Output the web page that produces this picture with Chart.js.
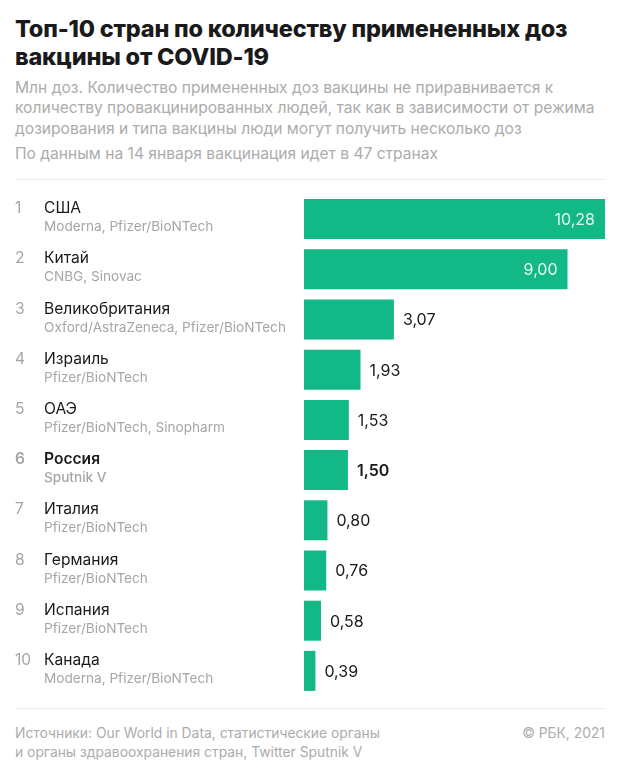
<!DOCTYPE html>
<html lang="ru">
<head>
<meta charset="utf-8">
<title>Топ-10 стран по количеству примененных доз вакцины от COVID-19</title>
<script src="https://cdn.jsdelivr.net/npm/chart.js@4"></script>
<style>
  html, body { margin: 0; background: #fff; }
  body { position: relative; width: 620px; height: 775px; overflow: hidden; font-family: Inter, sans-serif; }
  .box { position: absolute; left: 15px; white-space: nowrap; }
  h1 { margin: 0; top: 15px; font-size: 23.5px; line-height: 28px; font-weight: 800; color: #1a1a1a; letter-spacing: -0.2px; }
  .sub { color: #acacac; font-size: 15.6px; line-height: 20.4px; }
  .rule { position: absolute; left: 15px; width: 590px; height: 1px; background: #ececec; }
  .foot { color: #acacac; font-size: 13.85px; line-height: 18.5px; }
  canvas { position: absolute; left: 0; top: 0; }
</style>
</head>
<body>
<h1 class="box">Топ-10 стран по количеству примененных доз<br>вакцины от COVID-19</h1>
<div class="box sub" style="top:78px">Млн доз. Количество примененных доз вакцины не приравнивается к<br>количеству провакцинированных людей, так как в зависимости от режима<br>дозирования и типа вакцины люди могут получить несколько доз</div>
<div class="box sub" style="top:144px">По данным на 14 января вакцинация идет в 47 странах</div>
<div class="rule" style="top:179px"></div>
<div class="rule" style="top:708px"></div>
<div class="box foot" style="top:724px">Источники: Our World in Data, статистические органы<br>и органы здравоохранения стран, Twitter Sputnik V</div>
<div class="box foot" style="top:724px;left:auto;right:15px">© РБК, 2021</div>
<canvas id="chart" width="620" height="775"></canvas>
<script>
const ranks = ["1", "2", "3", "4", "5", "6", "7", "8", "9", "10"];
const countries = ["США", "Китай", "Великобритания", "Израиль", "ОАЭ", "Россия", "Италия", "Германия", "Испания", "Канада"];
const vaccines = [
  "Moderna, Pfizer/BioNTech",
  "CNBG, Sinovac",
  "Oxford/AstraZeneca, Pfizer/BioNTech",
  "Pfizer/BioNTech",
  "Pfizer/BioNTech, Sinopharm",
  "Sputnik V",
  "Pfizer/BioNTech",
  "Pfizer/BioNTech",
  "Pfizer/BioNTech",
  "Moderna, Pfizer/BioNTech"
];
const doses = [10.28, 9.0, 3.07, 1.93, 1.53, 1.5, 0.8, 0.76, 0.58, 0.39];
const highlighted = "Россия";

const rowLabels = {
  id: "rowLabels",
  afterDatasetsDraw(chart) {
    const ctx = chart.ctx;
    const bars = chart.getDatasetMeta(0).data;
    ctx.save();
    ctx.textBaseline = "middle";
    bars.forEach((bar, i) => {
      const bold = countries[i] === highlighted;
      ctx.textAlign = "left";
      ctx.fillStyle = "#a6a6a6";
      ctx.font = (bold ? "600 " : "") + "15.6px Inter";
      ctx.fillText(ranks[i], 15, bar.y - 10.5);
      ctx.fillStyle = "#1a1a1a";
      ctx.fillText(countries[i], 44, bar.y - 10.5);
      ctx.fillStyle = "#a6a6a6";
      ctx.font = (bold ? "500 " : "") + "13.6px Inter";
      ctx.fillText(vaccines[i], 44, bar.y + 8);

      const text = doses[i].toFixed(2).replace(".", ",");
      ctx.font = (bold ? "600 " : "") + "16px Inter";
      if (doses[i] > 5) {
        ctx.textAlign = "right";
        ctx.fillStyle = "#e4f6ef";
        ctx.fillText(text, bar.x - 10, bar.y + 1);
      } else {
        ctx.textAlign = "left";
        ctx.fillStyle = "#1a1a1a";
        ctx.fillText(text, bar.x + 9, bar.y + 1);
      }
    });
    ctx.restore();
  }
};

new Chart(document.getElementById("chart"), {
  type: "bar",
  data: {
    labels: countries,
    datasets: [{
      data: doses,
      backgroundColor: "#12b886",
      borderWidth: 0,
      barPercentage: 0.797,
      categoryPercentage: 1
    }]
  },
  options: {
    indexAxis: "y",
    responsive: false,
    animation: false,
    layout: { padding: { left: 304, right: 15, top: 194, bottom: 79 } },
    plugins: { legend: { display: false }, tooltip: { enabled: false } },
    scales: {
      x: { display: false, min: 0, max: 10.28 },
      y: { display: false }
    }
  },
  plugins: [rowLabels]
});
</script>
</body>
</html>
